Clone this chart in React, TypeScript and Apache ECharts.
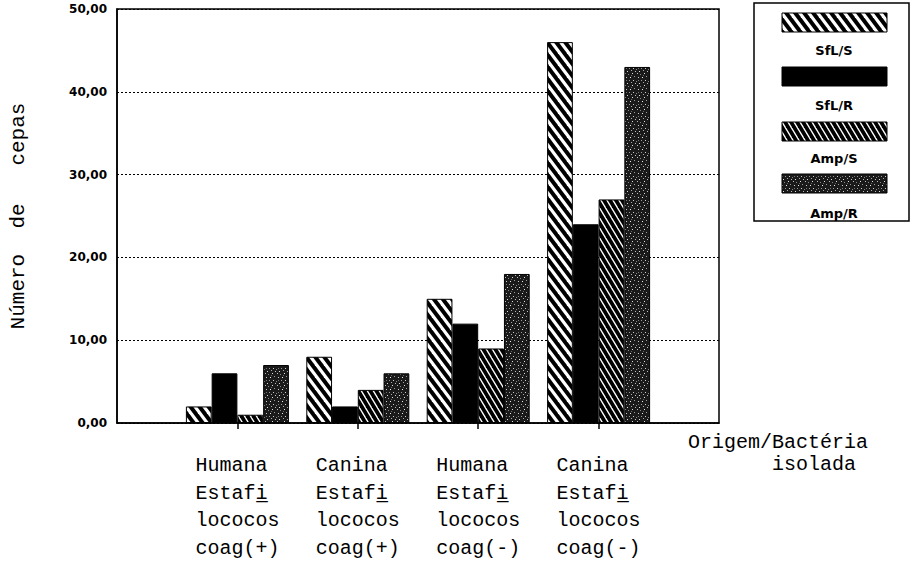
import React, { useEffect, useRef } from "react";
import * as echarts from "echarts";

const categories = [
  "Humana\u00a0\nEstafi\u0332\u00a0\nlococos\ncoag(+)",
  "Canina\u00a0\nEstafi\u0332\u00a0\nlococos\ncoag(+)",
  "Humana\u00a0\nEstafi\u0332\u00a0\nlococos\ncoag(-)",
  "Canina\u00a0\nEstafi\u0332\u00a0\nlococos\ncoag(-)",
];
const seriesNames = ["SfL/S", "SfL/R", "Amp/S", "Amp/R"];
const sflS = [2, 8, 15, 46];
const sflR = [6, 2, 12, 24];
const ampS = [1, 4, 9, 27];
const ampR = [7, 6, 18, 43];
const yTicks = [0, 10, 20, 30, 40, 50];

function stripe(w: number, h: number, bg: string, fg: string, lw: number) {
  const c = document.createElement("canvas");
  c.width = w;
  c.height = h;
  const ctx = c.getContext("2d")!;
  ctx.fillStyle = bg;
  ctx.fillRect(0, 0, w, h);
  ctx.fillStyle = fg;
  for (const off of [-w, 0, w]) {
    ctx.beginPath();
    ctx.moveTo(off, 0);
    ctx.lineTo(off + lw, 0);
    ctx.lineTo(off + lw + w, h);
    ctx.lineTo(off + w, h);
    ctx.closePath();
    ctx.fill();
  }
  return { image: c, repeat: "repeat", imageWidth: w, imageHeight: h };
}

function stipple() {
  const c = document.createElement("canvas");
  c.width = 12;
  c.height = 12;
  const ctx = c.getContext("2d")!;
  ctx.fillStyle = "#1a1a1a";
  ctx.fillRect(0, 0, 12, 12);
  const dots = [
    [1, 1, "#bbb"], [4, 2, "#888"], [8, 1, "#ddd"], [10, 4, "#999"],
    [2, 5, "#ccc"], [6, 5, "#eee"], [5, 8, "#999"], [9, 8, "#ccc"],
    [0, 9, "#888"], [3, 11, "#ddd"], [7, 10, "#aaa"], [11, 11, "#bbb"],
    [7, 3, "#666"], [2, 8, "#777"],
  ] as [number, number, string][];
  for (const [x, y, col] of dots) {
    ctx.fillStyle = col;
    ctx.fillRect(x, y, 1, 1);
  }
  return { image: c, repeat: "repeat", imageWidth: 12, imageHeight: 12 };
}

export default function App() {
  const ref = useRef<HTMLDivElement>(null);
  useEffect(() => {
    if (!ref.current) return;
    const chart = echarts.init(ref.current, undefined, { renderer: "svg" });
    const fills: any[] = [
      stripe(9, 12, "#fff", "#000", 5),
      "#000",
      stripe(6, 10, "#000", "#fff", 1.6),
      stipple(),
    ];
    const values = [sflS, sflR, ampS, ampR];
    const xData = ["", ...categories, ""];

    const legendTops = [13, 67, 122, 174];
    const legendLabelY = [50, 105, 158, 213];
    const legendChildren: any[] = [
      {
        type: "rect",
        shape: { x: 754, y: 3, width: 155, height: 218 },
        style: { fill: "#fff", stroke: "#000", lineWidth: 1.5 },
      },
    ];
    seriesNames.forEach((n, i) => {
      legendChildren.push({
        type: "rect",
        shape: { x: 782, y: legendTops[i], width: 105, height: 19 },
        style: { fill: fills[i], stroke: "#000", lineWidth: 1 },
      });
      legendChildren.push({
        type: "text",
        x: 834,
        y: legendLabelY[i],
        style: {
          text: n,
          align: "center",
          verticalAlign: "middle",
          font: "bold 13px 'DejaVu Sans'",
          fill: "#000",
        },
      });
    });

    chart.setOption({
      animation: false,
      backgroundColor: "#fff",
      title: {
        text: "Origem/Bactéria\n\u00a0\u00a0\u00a0\u00a0\u00a0\u00a0\u00a0isolada",
        left: 688,
        top: 431,
        padding: 0,
        textStyle: {
          fontFamily: "'Liberation Mono', 'DejaVu Sans Mono', monospace",
          fontSize: 20,
          fontWeight: "normal",
          lineHeight: 22,
          color: "#000",
        },
      },
      grid: {
        left: 111,
        top: 9,
        width: 608,
        height: 414,
        show: true,
        borderColor: "#000",
        borderWidth: 1.5,
        backgroundColor: "transparent",
      },
      xAxis: {
        type: "category",
        data: xData,
        boundaryGap: false,
        axisLine: { show: true, lineStyle: { color: "#000", width: 1.5 } },
        axisTick: {
          show: true,
          length: 6,
          interval: (i: number) => i > 0 && i < xData.length - 1,
          lineStyle: { color: "#000", width: 1.5 },
        },
        axisLabel: {
          interval: 0,
          margin: 29,
          fontFamily: "'Liberation Mono', 'DejaVu Sans Mono', monospace",
          fontSize: 20,
          lineHeight: 27.5,
          color: "#000",
          align: "center",
        },
        splitLine: { show: false },
      },
      yAxis: {
        type: "value",
        min: yTicks[0],
        max: yTicks[yTicks.length - 1],
        interval: 10,
        name: "Número\u00a0\u00a0de\u00a0\u00a0\u00a0cepas",
        nameLocation: "middle",
        nameRotate: 90,
        nameGap: 88,
        nameTextStyle: {
          fontFamily: "'Liberation Mono', 'DejaVu Sans Mono', monospace",
          fontSize: 21,
          color: "#000",
        },
        axisLine: { show: true, lineStyle: { color: "#000", width: 1.5 } },
        axisTick: { show: false },
        axisLabel: {
          margin: 10,
          fontFamily: "'DejaVu Sans', sans-serif",
          fontWeight: "bold",
          fontSize: 12,
          color: "#000",
          padding: [6, 0, 0, 0],
          formatter: (v: number) => v.toFixed(2).replace(".", ","),
        },
        splitLine: {
          show: true,
          lineStyle: { color: "#000", type: [2, 2], width: 1 },
        },
      },
      series: seriesNames.map((n, i) => ({
        name: n,
        type: "bar",
        barWidth: 25.75,
        barGap: "0%",
        data: ["-", ...values[i], "-"],
        itemStyle: { color: fills[i], borderColor: "#000", borderWidth: 1 },
      })),
      graphic: [{ type: "group", children: legendChildren }],
    });
    return () => chart.dispose();
  }, []);
  return (
    <div
      ref={ref}
      style={{ position: "absolute", left: 0, top: 0, width: 913, height: 574, background: "#fff" }}
    />
  );
}
